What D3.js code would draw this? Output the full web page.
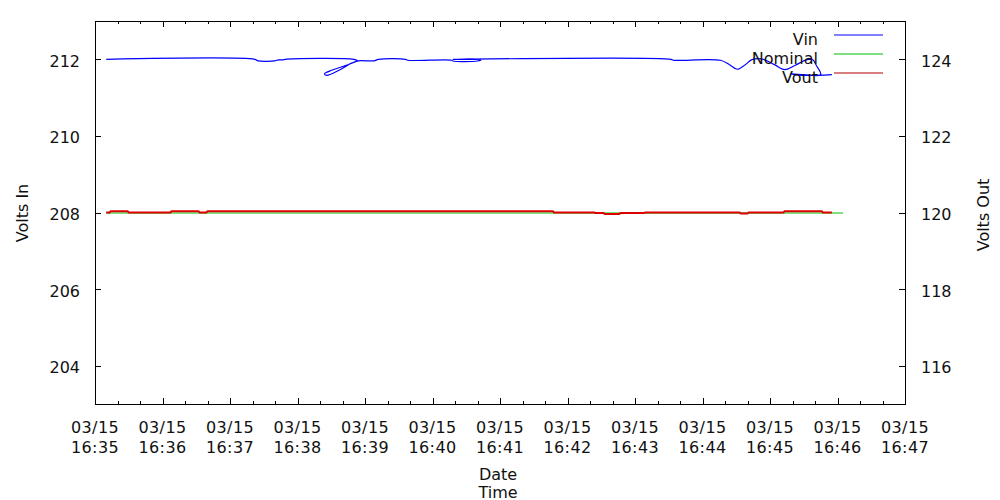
<!DOCTYPE html>
<html><head><meta charset="utf-8">
<script src="https://cdn.jsdelivr.net/npm/d3@7"></script>
<style>
body{margin:0;background:#fff}
text{font-family:"DejaVu Sans",sans-serif;font-size:16px;fill:#111}
</style>
</head><body>
<svg id="c" width="1000" height="500"></svg>
<script>
// ---- data ----
const xTickDate = "03/15";
const xTickTimes = ["16:35","16:36","16:37","16:38","16:39","16:40","16:41","16:42","16:43","16:44","16:45","16:46","16:47"];
const yLeftTicks = [204, 206, 208, 210, 212];
const yRightTicks = [116, 118, 120, 122, 124];
const seriesNames = ["Vin", "Nominal", "Vout"];
const seriesColors = ["#0000ff", "#00c000", "#dd0000"];

const vinTimes = ["16:35:10","16:37:22","16:37:25","16:37:40","16:37:43","16:37:47","16:37:49","16:38:50",
  "16:38:53","16:38:44","16:38:31","16:38:24","16:38:26","16:38:36","16:38:48","16:38:54","16:39:08","16:39:12",
  "16:39:36","16:39:38","16:40:17","16:40:18","16:40:40","16:40:43","16:40:40","16:40:18","16:40:19",
  "16:43:32","16:43:34","16:44:16","16:44:24","16:44:31","16:44:38","16:44:44","16:44:54",
  "16:45:04","16:45:13","16:45:22","16:45:33","16:45:38","16:45:41","16:45:45","16:45:30","16:45:18","16:45:28","16:45:55"];
const vinValues = [212.0,212.0,211.96,211.96,211.985,211.985,212.0,212.0,
  211.97,211.85,211.72,211.62,211.58,211.7,211.9,211.96,211.96,212.0,
  212.0,211.975,211.975,211.955,211.955,211.98,212.0,212.0,212.0,
  212.0,211.975,211.975,211.86,211.74,211.86,211.99,212.0,
  211.86,211.73,211.84,211.99,211.99,211.85,211.6,211.6,211.62,211.58,211.6];

const nominalTimes = ["16:35:10","16:46:05"];
const nominalValues = [120.0, 120.0];

const voutTimes = ["16:35:10","16:35:13","16:35:14","16:35:29","16:35:30","16:36:07","16:36:08","16:36:32","16:36:33",
  "16:36:39","16:36:40","16:41:47","16:41:48","16:42:24","16:42:25","16:42:32","16:42:33","16:42:46","16:42:47",
  "16:43:08","16:43:09","16:44:33","16:44:34","16:44:40","16:44:41","16:45:12","16:45:13","16:45:46","16:45:47","16:45:55"];
const voutValues = [120.0,120.0,120.03,120.03,120.0,120.0,120.03,120.03,120.0,
  120.0,120.03,120.03,120.0,120.0,119.985,119.985,119.96,119.96,119.985,
  119.985,120.0,120.0,119.975,119.975,120.0,120.0,120.035,120.035,120.0,120.0];

// ---- layout ----
const L = 95, R = 905, T = 21, B = 404;
const parse = d3.timeParse("%H:%M:%S");
const parseHM = d3.timeParse("%H:%M");
const svg = d3.select("#c");

const x = d3.scaleTime().domain([parseHM("16:35"), parseHM("16:47")]).range([L, R]);
const yL = d3.scaleLinear().domain([203, 213]).range([B, T]);
const yR = d3.scaleLinear().domain([115, 125]).range([B, T]);

const majors = xTickTimes.map(parseHM);
const minors = d3.timeSecond.every(20).range(parseHM("16:35"), parseHM("16:47")).filter(d => d.getSeconds() !== 0);

function ticks(g, axis) {
  g.call(axis).call(s => s.select(".domain").remove()).call(s => s.selectAll("text").remove());
  g.selectAll("line").attr("stroke", "#000").attr("shape-rendering", "crispEdges");
}
svg.append("g").attr("transform", `translate(0,${B})`).call(ticks, d3.axisBottom(x).tickValues(majors).tickSize(-6));
svg.append("g").attr("transform", `translate(0,${B})`).call(ticks, d3.axisBottom(x).tickValues(minors).tickSize(-3));
svg.append("g").attr("transform", `translate(0,${T})`).call(ticks, d3.axisTop(x).tickValues(majors).tickSize(-6));
svg.append("g").attr("transform", `translate(0,${T})`).call(ticks, d3.axisTop(x).tickValues(minors).tickSize(-3));
svg.append("g").attr("transform", `translate(${L},0)`).call(ticks, d3.axisLeft(yL).tickValues(yLeftTicks).tickSize(-6));
svg.append("g").attr("transform", `translate(${R},0)`).call(ticks, d3.axisRight(yR).tickValues(yRightTicks).tickSize(-6));

// frame
svg.append("rect").attr("x", L).attr("y", T).attr("width", R - L).attr("height", B - T)
  .attr("fill", "none").attr("stroke", "#000").attr("shape-rendering", "crispEdges");

// tick labels
svg.selectAll(".xl1").data(majors).join("text").attr("x", d => x(d)).attr("y", 433)
  .attr("text-anchor", "middle").attr("letter-spacing", "0.4px").text(xTickDate);
svg.selectAll(".xl2").data(majors).join("text").attr("x", d => x(d)).attr("y", 452.5)
  .attr("text-anchor", "middle").attr("letter-spacing", "0.4px").text(d => d3.timeFormat("%H:%M")(d));
svg.selectAll(".yl").data(yLeftTicks).join("text").attr("x", 80).attr("y", d => yL(d) + 7.5)
  .attr("text-anchor", "end").text(d => d);
svg.selectAll(".yr").data(yRightTicks).join("text").attr("x", 921).attr("y", d => yR(d) + 7.5)
  .attr("text-anchor", "start").text(d => d);

// axis titles
svg.append("text").attr("x", 498).attr("y", 479.5).attr("text-anchor", "middle").text("Date");
svg.append("text").attr("x", 498).attr("y", 497.5).attr("text-anchor", "middle").text("Time");
svg.append("text").attr("transform", "translate(27.5,213) rotate(-90)").attr("text-anchor", "middle").text("Volts In");
svg.append("text").attr("transform", "translate(988.5,215) rotate(-90)").attr("text-anchor", "middle").text("Volts Out");

// series
const vin = vinTimes.map((t, i) => ({t: parse(t), v: vinValues[i]}));
const nom = nominalTimes.map((t, i) => ({t: parse(t), v: nominalValues[i]}));
const vout = voutTimes.map((t, i) => ({t: parse(t), v: voutValues[i]}));

svg.append("path").datum(nom).attr("fill", "none").attr("stroke", seriesColors[1]).attr("stroke-width", 1)
  .attr("d", d3.line().x(d => x(d.t)).y(d => yR(d.v) + 0.5));
svg.append("path").datum(vout).attr("fill", "none").attr("stroke", seriesColors[2]).attr("stroke-width", 2)
  .attr("d", d3.line().x(d => x(d.t)).y(d => yR(d.v)));
svg.append("path").datum(vin).attr("fill", "none").attr("stroke", seriesColors[0]).attr("stroke-width", 1.2)
  .attr("d", d3.line().curve(d3.curveCatmullRom.alpha(0.5)).x(d => x(d.t)).y(d => yL(d.v)));

// legend
const lg = svg.append("g");
seriesNames.forEach((n, i) => {
  const ly = 35 + i * 19;
  lg.append("text").attr("x", 818).attr("y", ly + 9.5).attr("text-anchor", "end").text(n);
  lg.append("line").attr("x1", 834).attr("x2", 883).attr("y1", ly).attr("y2", ly)
    .attr("stroke", i === 2 ? "#b00000" : seriesColors[i]).attr("stroke-width", 1.2);
});
</script>
</body></html>
